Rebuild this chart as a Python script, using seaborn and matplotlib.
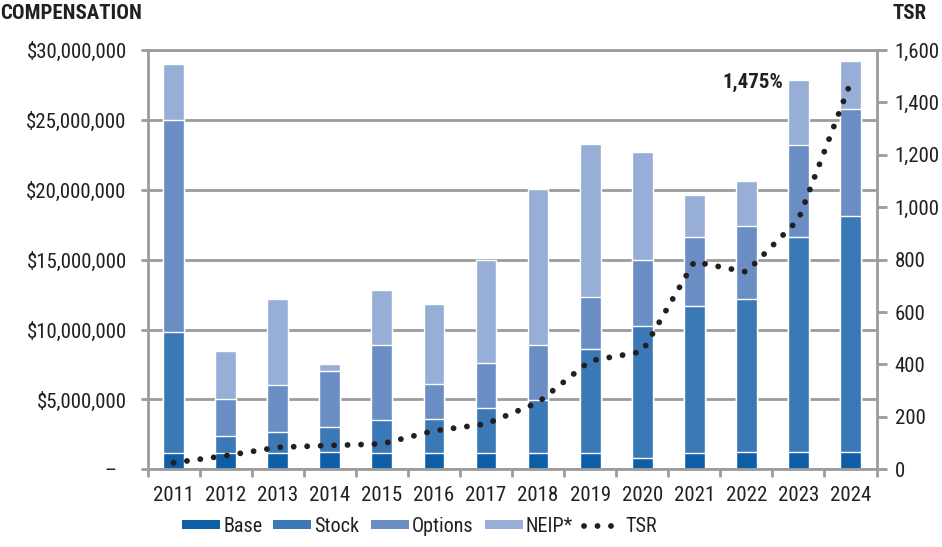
import matplotlib.pyplot as plt
import numpy as np
import seaborn as sns
from matplotlib import font_manager
from matplotlib.lines import Line2D
from matplotlib.patches import Patch
from matplotlib.ticker import FuncFormatter, MultipleLocator

# compensation components, $ millions
years = [str(y) for y in range(2011, 2025)]
base = [1.15, 1.15, 1.15, 1.25, 1.15, 1.15, 1.15, 1.15, 1.15, 0.8, 1.15, 1.25, 1.25, 1.25]
stock = [8.7, 1.25, 1.5, 1.8, 2.35, 2.45, 3.25, 3.8, 7.45, 9.45, 10.55, 10.95, 15.35, 16.85]
options = [15.15, 2.6, 3.35, 3.95, 5.4, 2.5, 3.2, 3.95, 3.7, 4.75, 4.95, 5.2, 6.6, 7.7]
neip = [4.0, 3.5, 6.2, 0.55, 3.95, 5.7, 7.4, 11.15, 11.0, 7.7, 2.95, 3.2, 4.65, 3.4]

# total shareholder return, %
tsr = [25, 52, 84, 91, 97, 147, 173, 255, 414, 449, 792, 753, 953, 1475]

series_names = ["Base", "Stock", "Options", "NEIP*"]
colors = ["#0f5ea8", "#3b78b6", "#6a8ec4", "#97aed6"]
grid_gray = "#9c9c9c"
text_color = "#231f20"


def pick_narrow_font():
    # the original uses a condensed face; take whatever narrow family is installed
    fonts = font_manager.fontManager.ttflist
    names = {f.name for f in fonts}
    for name in ["Liberation Sans Narrow", "Roboto Condensed", "Open Sans Condensed",
                 "Noto Sans Condensed", "DejaVu Sans Condensed"]:
        if name in names:
            return name, "normal"
    for name in ["Roboto", "Noto Sans", "Open Sans", "DejaVu Sans"]:
        for f in fonts:
            if f.name == name and str(f.stretch) in ("condensed", "semi-condensed", "extra-condensed"):
                return name, "condensed"
    return "Liberation Sans", "normal"


font_name, font_stretch = pick_narrow_font()

sns.set_style("white")
plt.rcParams["font.family"] = [font_name, "DejaVu Sans"]
plt.rcParams["font.stretch"] = font_stretch
plt.rcParams["text.color"] = text_color
plt.rcParams["xtick.color"] = grid_gray
plt.rcParams["ytick.color"] = grid_gray
plt.rcParams["xtick.labelcolor"] = text_color
plt.rcParams["ytick.labelcolor"] = text_color

fig, ax = plt.subplots(figsize=(9.42, 5.47), dpi=100)
fig.subplots_adjust(left=0.1566, right=0.9305, bottom=0.142, top=0.9086)

# stacked bars: draw the cumulative tops from the tallest layer down
layers = np.array([base, stock, options, neip]) * 1e6
cum = np.cumsum(layers, axis=0)
for i in range(len(series_names) - 1, -1, -1):
    sns.barplot(x=years, y=cum[i], color=colors[i], saturation=1, width=0.4,
                errorbar=None, ax=ax, zorder=2)

ax.set_xlim(-0.5, len(years) - 0.5)
ax.set_ylim(0, 30e6)
ax.yaxis.set_major_locator(MultipleLocator(5e6))
ax.yaxis.set_major_formatter(FuncFormatter(lambda v, p: "–  " if v == 0 else f"${v:,.0f}"))
ax.set_axisbelow(True)
ax.grid(axis="y", color=grid_gray, linewidth=2.0)
ax.set_xlabel("")
ax.set_ylabel("")

for side in ["left", "right", "top", "bottom"]:
    ax.spines[side].set_visible(True)
    ax.spines[side].set_color(grid_gray)
    ax.spines[side].set_linewidth(2.0)

ax.tick_params(axis="y", left=True, direction="out", length=5, width=2.0, pad=10, labelsize=15)
ax.tick_params(axis="x", which="major", bottom=True, length=0, pad=12, labelsize=15)
ax.set_xticks(np.arange(-0.5, len(years)), minor=True)
ax.tick_params(axis="x", which="minor", bottom=True, direction="out", length=6, width=2.0)

# TSR on the secondary axis
ax2 = ax.twinx()
dot_style = (0, (0.01, 2.3))
sns.lineplot(x=np.arange(len(years)), y=tsr, ax=ax2, color=text_color,
             linewidth=4.2, linestyle=dot_style, zorder=3)
for line in ax2.lines:
    line.set_dash_capstyle("round")
ax2.set_ylim(0, 1600)
ax2.yaxis.set_major_locator(MultipleLocator(200))
ax2.yaxis.set_major_formatter(FuncFormatter(lambda v, p: f"{v:,.0f}"))
ax2.tick_params(axis="y", right=True, direction="out", length=7, width=2.0, pad=6, labelsize=15)
for side in ["left", "right", "top", "bottom"]:
    ax2.spines[side].set_visible(False)
ax2.set_ylabel("")

ax2.text(len(years) - 1 - 1.3, tsr[-1], f"{tsr[-1]:,}%", ha="right", va="center",
         fontsize=15, fontweight="bold")

fig.text(0.0, 0.993, "COMPENSATION", ha="left", va="top", fontsize=15, fontweight="bold")
fig.text(0.947, 0.993, "TSR", ha="left", va="top", fontsize=15, fontweight="bold")

handles = [Patch(facecolor=c, edgecolor="none") for c in colors]
handles.append(Line2D([], [], color=text_color, linewidth=4.2, linestyle=dot_style,
                      dash_capstyle="round"))
fig.legend(handles, series_names + ["TSR"], loc="center", bbox_to_anchor=(0.4453, 0.038),
           ncol=5, frameon=False, fontsize=14.5, handlelength=1.9, handleheight=0.35,
           handletextpad=0.15, columnspacing=0.55)

fig.savefig("out.png", dpi=100)
